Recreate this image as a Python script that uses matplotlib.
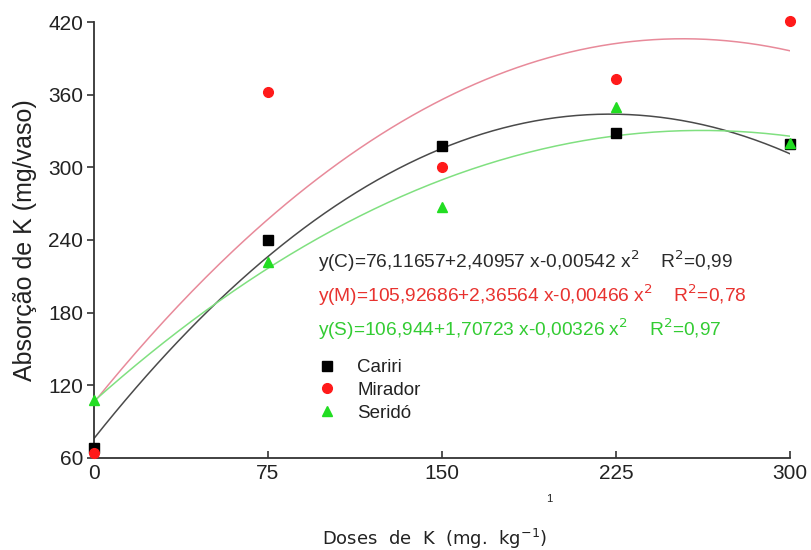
import matplotlib.pyplot as plt
import numpy as np

plt.rcParams['font.family'] = ['Liberation Sans', 'DejaVu Sans']

doses = [0, 75, 150, 225, 300]
cariri = [68, 240, 318, 328, 319]
mirador = [64, 362, 300, 373, 421]
serido = [108, 222, 267, 350, 320]

# fitted quadratics (c0, c1, c2) as printed on the chart
fit_c = [76.11657, 2.40957, -0.00542]
fit_m = [105.92686, 2.36564, -0.00466]
fit_s = [106.944, 1.70723, -0.00326]

eq_texts = [
    ('y(C)=76,11657+2,40957 x-0,00542 x$^2$    R$^2$=0,99', '#2a2a2a'),
    ('y(M)=105,92686+2,36564 x-0,00466 x$^2$    R$^2$=0,78', '#e8322f'),
    ('y(S)=106,944+1,70723 x-0,00326 x$^2$    R$^2$=0,97', '#33cc33'),
]

fig = plt.figure(figsize=(8.11, 5.5), dpi=100)
ax = fig.add_axes([0.1159, 0.1673, 0.8582, 0.7927])

xs = np.linspace(0, 300, 200)
for coefs, col in [(fit_c, '#4a4a4a'), (fit_m, '#e88a9a'), (fit_s, '#80e080')]:
    ax.plot(xs, np.polyval(coefs[::-1], xs), color=col, lw=1.1, zorder=2)

ax.plot(doses, cariri, 's', color='black', ms=6.5, label='Cariri', clip_on=False, zorder=3)
ax.plot(doses, mirador, 'o', color='#ff1a1a', ms=7, label='Mirador', clip_on=False, zorder=3)
ax.plot(doses, serido, '^', color='#22dd22', ms=7.5, label='Seridó', clip_on=False, zorder=4)

ax.set_xlim(0, 300)
ax.set_ylim(60, 420)
ax.set_xticks(doses)
ax.set_yticks(np.arange(60, 421, 60))
ax.spines['top'].set_visible(False)
ax.spines['right'].set_visible(False)
for s in ['left', 'bottom']:
    ax.spines[s].set_color('#333333')
    ax.spines[s].set_linewidth(1.3)
ax.tick_params(axis='y', direction='out', length=5, width=1.2, color='#333333',
               labelsize=15, labelcolor='#222222', pad=3)
ax.tick_params(axis='x', direction='in', length=5, width=1.2, color='#333333',
               labelsize=15, labelcolor='#222222', pad=4)
ax.set_ylabel('Absorção de K (mg/vaso)', fontsize=18, color='#222222', labelpad=8)

for i, (txt, col) in enumerate(eq_texts):
    fig.text(318 / 811, 1 - (261 + i * 34) / 550, txt, color=col, fontsize=13.8,
             va='center', ha='left')

leg = ax.legend(loc='upper left', bbox_to_anchor=(316 / 811, 1 - 359 / 550),
                bbox_transform=fig.transFigure, frameon=False, fontsize=13.5,
                handletextpad=1.0, labelspacing=0.3, handlelength=1.2,
                borderaxespad=0, borderpad=0)
for t in leg.get_texts():
    t.set_color('#222222')

# remnant of the original axis label partly hidden behind the picture
fig.text(549 / 811, 1 - 499 / 550, '1', color='#222222', fontsize=8,
         ha='center', va='center')

fig.text(435 / 811, 1 - 539 / 550, 'Doses  de  K  (mg.  kg$^{-1}$)', family='DejaVu Sans',
         fontsize=13, color='#222222', ha='center', va='center')

fig.savefig('out.png', dpi=100)
